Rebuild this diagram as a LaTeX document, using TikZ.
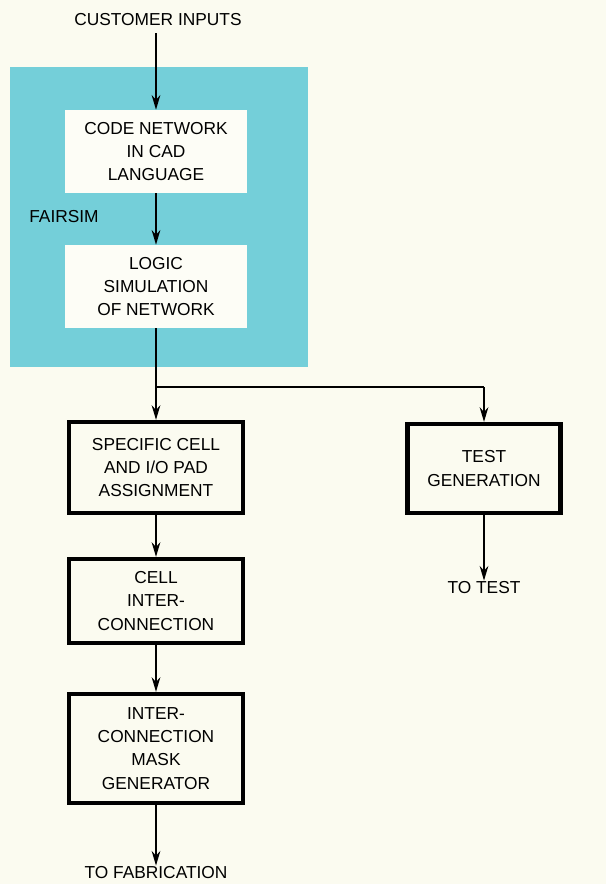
\documentclass[tikz,border=0pt]{standalone}
\usepackage{fontspec}
\setmainfont{Liberation Sans}
\usetikzlibrary{arrows.meta}
\definecolor{paper}{RGB}{251,251,240}
\definecolor{simblue}{RGB}{116,207,217}
\definecolor{boxwhite}{RGB}{253,253,246}
\tikzset{
  txt/.style={inner sep=0.75pt,align=center,font=\fontsize{13}{17.4}\selectfont},
  simbox/.style={txt,fill=boxwhite,minimum width=136.5pt,minimum height=62.25pt},
  stepbox/.style={txt,draw=black,line width=3.2pt,fill=paper,minimum width=130.5pt},
  flow/.style={line width=1.3pt,-{Stealth[length=11pt,width=6.5pt]}}
}
\begin{document}
\begin{tikzpicture}[x=0.75pt,y=0.75pt,yscale=-1,xscale=1]
\fill[paper] (0,0) rectangle (606,884);
\fill[simblue] (10,67) rectangle (308,367);
\draw (158,20) node[txt] (cust) {CUSTOMER INPUTS};
\draw (156,151.5) node[simbox] (code) {CODE NETWORK\\IN CAD\\LANGUAGE};
\draw (156,286.5) node[simbox] (logic) {LOGIC\\SIMULATION\\OF NETWORK};
\draw (64,217) node[txt] (fair) {FAIRSIM};
\coordinate (split) at (156,387);
\draw (156,467.5) node[stepbox,minimum height=68.25pt] (spec) {SPECIFIC CELL\\AND I/O PAD\\ASSIGNMENT};
\draw (484,468.5) node[stepbox,minimum width=114.75pt,minimum height=66.75pt] (test) {TEST\\GENERATION};
\draw (156,601) node[stepbox,minimum height=63pt] (cell) {CELL\\INTER-\\CONNECTION};
\draw (156,748.5) node[stepbox,minimum height=81.75pt] (mask) {INTER-\\CONNECTION\\MASK\\GENERATOR};
\draw (484,588) node[txt] (totest) {TO TEST};
\draw (156,873) node[txt] (tofab) {TO FABRICATION};
% connectors
\draw[flow] (cust.south -| code.north) ++(0,6) -- (code.north);
\draw[flow] (code) -- (logic);
\draw[line width=1.3pt] (logic.south) -- (split) -- (split -| test.north);
\draw[flow] (split) -- (spec.north);
\draw[flow] (split -| test.north) -- (test.north);
\draw[flow] (spec) -- (cell);
\draw[flow] (cell) -- (mask);
\draw[flow] (test) -- (totest.north);
\draw[flow] (mask) -- (tofab.north);
\end{tikzpicture}
\end{document}
